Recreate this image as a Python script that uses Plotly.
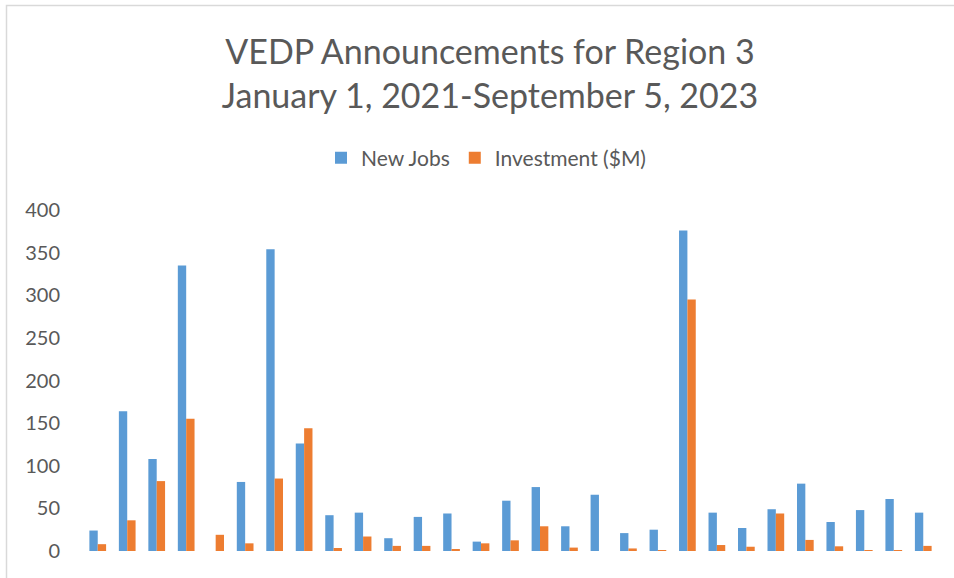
import plotly.graph_objects as go

categories = [str(i) for i in range(1, 30)]
new_jobs = [24, 164, 108, 335, 0, 81, 354, 126, 42, 45, 15, 40, 44, 11, 59,
            75, 29, 66, 21, 25, 376, 45, 27, 49, 79, 34, 48, 61, 45]
investment = [8, 36, 82, 155, 19, 9, 85, 144, 3.5, 17, 6, 6, 2, 9, 12.5,
              29, 4, 0, 3, 1, 295, 7, 5, 44, 13, 5.5, 1, 1, 6]
y_ticks = [0, 50, 100, 150, 200, 250, 300, 350, 400]

W, H = 954, 578
L, R, T, B = 83, 16, 210, 27
pw = W - L - R
ph = H - T - B

def px_x(p):
    return (p - L) / pw

def px_y(p):
    return (H - B - p) / ph

fig = go.Figure()
fig.add_trace(go.Bar(x=categories, y=new_jobs, name="New Jobs",
                     marker=dict(color="#5B9BD5", line=dict(width=0))))
fig.add_trace(go.Bar(x=categories, y=investment, name="Investment ($M)",
                     marker=dict(color="#ED7D31", line=dict(width=0))))

fig.update_layout(
    width=W, height=H,
    margin=dict(l=L, r=R, t=T, b=B, pad=0),
    paper_bgcolor="white", plot_bgcolor="white",
    font=dict(family="Lato", color="#595959"),
    barmode="group", bargap=0.433, bargroupgap=0,
    title=dict(text="VEDP Announcements for Region 3<br>January 1, 2021-September 5, 2023",
               font=dict(size=34, color="#595959", family="Lato"),
               x=px_x(490), xref="paper", xanchor="center",
               y=1 - 64 / H, yref="container", yanchor="top"),
    legend=dict(orientation="h", x=px_x(486), xanchor="center",
                y=px_y(158), yanchor="middle",
                font=dict(size=21, color="#595959"),
                itemwidth=30, traceorder="normal"),
    xaxis=dict(showticklabels=False, showgrid=False, zeroline=False,
               showline=False, ticks=""),
    yaxis=dict(range=[0, 400], tickvals=y_ticks, showgrid=False,
               zeroline=False, showline=False,
               tickfont=dict(size=20, color="#595959"),
               ticklabelstandoff=22),
    shapes=[dict(type="rect", xref="paper", yref="paper",
                 x0=px_x(6.5), x1=px_x(1000), y0=px_y(700), y1=px_y(5.5),
                 line=dict(color="#D9D9D9", width=1.5), fillcolor="rgba(0,0,0,0)",
                 layer="below")],
)

fig.write_html("out.html",
               config={"displayModeBar": False},
               post_script="document.body.style.margin='0px';document.body.style.overflow='hidden';")
